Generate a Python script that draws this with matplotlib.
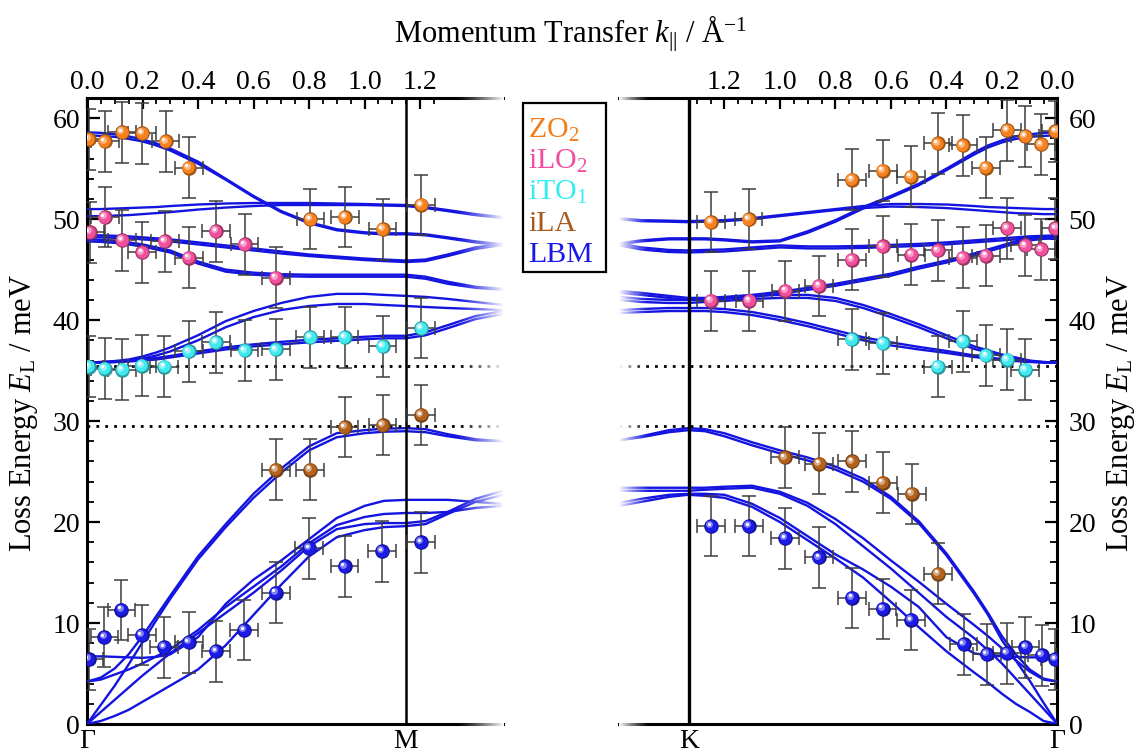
import numpy as np
import matplotlib.pyplot as plt
from matplotlib.transforms import offset_copy
from matplotlib.patches import Rectangle
from matplotlib.colors import to_rgb

plt.rcParams['font.family'] = 'Liberation Serif'
plt.rcParams['mathtext.fontset'] = 'custom'
plt.rcParams['mathtext.rm'] = 'Liberation Serif'
plt.rcParams['mathtext.it'] = 'Liberation Serif:italic'

W, H = 1142, 754
M_POINT = 1.148
K_POINT = 1.327

# ---- calculated dispersion, Gamma -> M (left panel) ----
k_left = [0.00, 0.05, 0.10, 0.15, 0.20, 0.25, 0.30, 0.40, 0.50, 0.60,
          0.70, 0.80, 0.90, 1.00, 1.07, 1.15, 1.22, 1.30, 1.40, 1.50]
zo_l1 = [58.6, 58.55, 58.4, 58.2, 57.9, 57.5, 57.0, 55.7, 54.0, 52.3, 50.8, 49.7, 49.0, 48.7, 48.6, 48.6, 48.5, 48.2, 47.8, 47.5]
zo_l2 = [58.3, 58.25, 58.15, 57.95, 57.7, 57.3, 56.8, 55.5, 53.9, 52.2, 50.7, 49.6, 48.9, 48.6, 48.5, 48.5, 48.4, 48.1, 47.7, 47.4]
flat_l1 = [51.0, 51.0, 51.05, 51.1, 51.15, 51.2, 51.3, 51.45, 51.55, 51.6, 51.6, 51.6, 51.55, 51.5, 51.45, 51.4, 51.2, 50.9, 50.5, 50.2]
flat_l2 = [50.3, 50.3, 50.35, 50.4, 50.5, 50.6, 50.7, 50.95, 51.15, 51.3, 51.4, 51.4, 51.4, 51.4, 51.35, 51.3, 51.1, 50.8, 50.4, 50.1]
lo_l1 = [48.4, 48.4, 48.35, 48.3, 48.2, 48.1, 48.0, 47.7, 47.4, 47.1, 46.8, 46.5, 46.3, 46.1, 46.0, 45.9, 46.0, 46.5, 47.2, 47.6]
lo_l2 = [48.2, 48.2, 48.15, 48.1, 48.0, 47.9, 47.8, 47.5, 47.2, 46.9, 46.6, 46.35, 46.15, 45.95, 45.85, 45.75, 45.85, 46.35, 47.05, 47.45]
lod_l1 = [48.0, 47.95, 47.85, 47.7, 47.5, 47.2, 46.9, 45.8, 45.0, 44.7, 44.55, 44.5, 44.5, 44.5, 44.5, 44.5, 44.3, 43.8, 43.3, 43.1]
lod_l2 = [47.8, 47.75, 47.65, 47.5, 47.3, 47.0, 46.7, 45.6, 44.8, 44.5, 44.35, 44.3, 44.3, 44.3, 44.3, 44.3, 44.1, 43.6, 43.2, 43.0]
tou_l1 = [35.8, 35.85, 35.95, 36.1, 36.4, 36.8, 37.3, 38.5, 39.9, 40.9, 41.7, 42.3, 42.6, 42.6, 42.5, 42.4, 42.3, 42.1, 41.8, 41.5]
tou_l2 = [35.8, 35.85, 35.9, 36.0, 36.2, 36.5, 36.9, 38.0, 39.3, 40.3, 41.0, 41.4, 41.6, 41.6, 41.5, 41.4, 41.3, 41.2, 41.1, 41.0]
to_l1 = [35.8, 35.8, 35.85, 35.9, 36.0, 36.1, 36.3, 36.7, 37.1, 37.4, 37.6, 37.8, 37.95, 38.1, 38.2, 38.2, 38.5, 39.2, 40.1, 40.6]
to_l2 = [35.8, 35.8, 35.85, 35.95, 36.1, 36.25, 36.45, 36.9, 37.3, 37.6, 37.85, 38.05, 38.2, 38.35, 38.45, 38.45, 38.8, 39.5, 40.4, 40.9]
la_l1 = [0.0, 1.9, 3.8, 5.9, 8.1, 10.3, 12.4, 16.3, 19.5, 22.4, 24.9, 27.1, 28.4, 28.8, 28.95, 29.0, 28.9, 28.5, 28.1, 28.0]
la_l2 = [4.2, 4.6, 5.5, 6.9, 8.7, 10.7, 12.7, 16.6, 19.8, 22.8, 25.3, 27.5, 28.8, 29.1, 29.25, 29.3, 29.2, 28.7, 28.2, 28.0]
za_l = [0.0, 0.3, 0.8, 1.4, 2.2, 3.0, 3.8, 5.4, 7.8, 10.8, 13.8, 16.6, 18.5, 19.2, 19.5, 19.6, 19.8, 20.8, 22.0, 22.7]
ta_l = [0.0, 1.2, 2.4, 3.6, 4.8, 5.9, 7.0, 9.0, 11.0, 13.0, 15.2, 17.6, 19.3, 19.8, 19.9, 19.9, 20.1, 21.0, 22.3, 23.1]
tas_l = [4.2, 4.4, 4.9, 5.4, 6.0, 6.7, 7.4, 9.3, 11.6, 13.6, 15.6, 17.9, 19.7, 20.5, 20.8, 20.9, 20.9, 21.0, 21.4, 21.6]
lbm_l = [6.7, 6.7, 6.65, 6.6, 6.55, 6.65, 6.9, 8.6, 11.9, 14.3, 16.2, 18.3, 20.4, 21.6, 22.1, 22.2, 22.2, 22.2, 22.0, 21.8]

# ---- calculated dispersion, Gamma -> K (right panel) ----
k_right = [0.00, 0.05, 0.10, 0.15, 0.20, 0.25, 0.30, 0.40, 0.50, 0.60,
           0.70, 0.80, 0.90, 1.00, 1.10, 1.20, 1.27, 1.33, 1.40, 1.50, 1.58]
zo_r1 = [58.6, 58.55, 58.4, 58.2, 57.8, 57.3, 56.6, 55.0, 53.5, 52.3, 51.2, 49.9, 48.8, 47.9, 47.8, 48.0, 48.1, 48.1, 48.1, 47.9, 47.6]
zo_r2 = [58.3, 58.25, 58.15, 57.95, 57.6, 57.1, 56.4, 54.85, 53.35, 52.15, 51.05, 49.75, 48.65, 47.8, 47.7, 47.9, 48.0, 48.0, 48.0, 47.8, 47.5]
flat_r1 = [51.0, 51.0, 51.05, 51.1, 51.15, 51.2, 51.3, 51.45, 51.5, 51.5, 51.3, 51.0, 50.7, 50.4, 50.1, 49.9, 49.85, 49.8, 49.85, 49.9, 50.1]
flat_r2 = [50.5, 50.5, 50.55, 50.6, 50.7, 50.8, 50.9, 51.1, 51.2, 51.25, 51.1, 50.9, 50.6, 50.3, 50.0, 49.8, 49.75, 49.7, 49.75, 49.8, 50.0]
lo_r1 = [48.4, 48.35, 48.3, 48.2, 48.1, 48.0, 47.9, 47.7, 47.55, 47.45, 47.35, 47.3, 47.3, 47.4, 47.2, 47.0, 46.95, 46.9, 46.95, 47.2, 47.6]
lo_r2 = [48.2, 48.15, 48.1, 48.0, 47.9, 47.8, 47.7, 47.5, 47.35, 47.25, 47.15, 47.1, 47.1, 47.2, 47.0, 46.8, 46.75, 46.7, 46.75, 47.0, 47.4]
lor_r1 = [48.3, 48.25, 48.1, 47.8, 47.4, 47.0, 46.6, 45.9, 45.3, 44.6, 44.1, 43.6, 43.2, 42.8, 42.5, 42.3, 42.2, 42.2, 42.4, 42.7, 42.9]
lor_r2 = [48.1, 48.05, 47.9, 47.6, 47.2, 46.8, 46.4, 45.7, 45.1, 44.4, 43.9, 43.4, 43.0, 42.6, 42.3, 42.1, 42.0, 42.0, 42.2, 42.5, 42.7]
tou_r1 = [35.8, 35.85, 36.0, 36.3, 36.6, 37.0, 37.4, 38.5, 39.6, 40.6, 41.5, 42.2, 42.5, 42.5, 42.4, 42.2, 42.1, 42.0, 42.0, 42.1, 42.3]
tou_r2 = [35.8, 35.85, 35.95, 36.2, 36.45, 36.8, 37.15, 38.2, 39.3, 40.3, 41.2, 41.9, 42.2, 42.2, 42.1, 41.9, 41.8, 41.7, 41.7, 41.8, 42.0]
to_r1 = [35.8, 35.8, 35.85, 35.95, 36.05, 36.2, 36.35, 36.75, 37.1, 37.5, 38.0, 38.7, 39.4, 40.0, 40.5, 40.8, 40.9, 40.9, 40.9, 40.8, 40.7]
to_r2 = [35.8, 35.8, 35.9, 36.0, 36.15, 36.3, 36.5, 36.95, 37.35, 37.8, 38.3, 39.0, 39.7, 40.3, 40.8, 41.1, 41.2, 41.2, 41.2, 41.1, 41.0]
la_r1 = [0.0, 2.1, 4.3, 6.3, 8.3, 10.8, 12.9, 16.7, 19.9, 22.3, 24.0, 25.2, 26.1, 26.8, 27.6, 28.5, 29.0, 29.1, 28.9, 28.4, 28.1]
la_r2 = [4.2, 4.5, 5.4, 6.9, 8.7, 11.0, 13.1, 16.9, 20.1, 22.5, 24.3, 25.5, 26.4, 27.1, 27.9, 28.8, 29.2, 29.3, 29.1, 28.5, 28.1]
tas_r = [4.2, 4.4, 5.2, 6.3, 7.5, 8.7, 9.8, 11.9, 14.1, 16.2, 18.4, 20.3, 21.9, 23.0, 23.6, 23.5, 23.4, 23.4, 23.4, 23.4, 23.4]
ta_r = [0.0, 1.5, 3.0, 4.5, 6.0, 7.3, 8.5, 10.6, 13.0, 15.4, 17.6, 19.8, 21.6, 22.8, 23.4, 23.3, 23.2, 23.1, 23.1, 23.1, 23.1]
lbm_r = [6.6, 6.6, 6.6, 6.65, 6.7, 6.8, 7.0, 8.6, 11.6, 13.6, 15.3, 16.8, 18.6, 20.4, 21.8, 22.7, 22.8, 22.8, 22.7, 22.3, 21.9]
za_r = [0.0, 0.3, 1.2, 2.0, 3.0, 4.1, 5.1, 7.2, 9.6, 12.1, 14.5, 16.4, 18.2, 20.0, 21.5, 22.4, 22.6, 22.7, 22.5, 22.0, 21.6]

# ---- measured loss peaks ----
zo2_l_k = [0.007, 0.064, 0.127, 0.199, 0.283, 0.367, 0.805, 0.930, 1.065, 1.204]
zo2_l_e = [57.9, 57.7, 58.6, 58.5, 57.7, 55.1, 50.0, 50.2, 49.0, 51.4]
ilo2_l_k = [0.010, 0.064, 0.127, 0.199, 0.280, 0.367, 0.465, 0.568, 0.681]
ilo2_l_e = [48.7, 50.2, 47.9, 46.7, 47.8, 46.2, 48.8, 47.5, 44.2]
ito1_l_k = [0.007, 0.064, 0.127, 0.198, 0.278, 0.367, 0.465, 0.568, 0.681, 0.804, 0.928, 1.065, 1.204]
ito1_l_e = [35.4, 35.2, 35.1, 35.5, 35.4, 36.9, 37.8, 37.0, 37.1, 38.3, 38.3, 37.4, 39.2]
ila_l_k = [0.681, 0.804, 0.928, 1.065, 1.204]
ila_l_e = [25.2, 25.2, 29.4, 29.6, 30.6]
lbm_l_k = [0.007, 0.063, 0.124, 0.198, 0.278, 0.367, 0.465, 0.567, 0.681, 0.801, 0.928, 1.064, 1.204]
lbm_l_e = [6.4, 8.6, 11.3, 8.8, 7.6, 8.1, 7.2, 9.3, 13.0, 17.4, 15.6, 17.1, 18.0]

zo2_r_k = [1.248, 1.113, 0.740, 0.629, 0.528, 0.431, 0.341, 0.257, 0.181, 0.116, 0.058, 0.007]
zo2_r_e = [49.7, 50.0, 53.9, 54.8, 54.2, 57.5, 57.3, 55.1, 58.8, 58.2, 57.4, 58.7]
ilo2_r_k = [1.249, 1.110, 0.980, 0.859, 0.740, 0.629, 0.526, 0.431, 0.341, 0.257, 0.181, 0.116, 0.058, 0.007]
ilo2_r_e = [41.9, 41.9, 42.9, 43.4, 46.0, 47.3, 46.5, 46.9, 46.2, 46.4, 49.1, 47.4, 47.0, 49.1]
ito1_r_k = [0.740, 0.629, 0.431, 0.341, 0.257, 0.181, 0.116]
ito1_r_e = [38.1, 37.7, 35.4, 37.9, 36.5, 36.1, 35.1]
ila_r_k = [0.982, 0.858, 0.739, 0.629, 0.524, 0.429]
ila_r_e = [26.4, 25.8, 26.0, 23.9, 22.8, 14.9]
lbm_r_k = [1.247, 1.111, 0.981, 0.859, 0.740, 0.630, 0.527, 0.338, 0.255, 0.182, 0.115, 0.056, 0.008]
lbm_r_e = [19.6, 19.6, 18.4, 16.5, 12.5, 11.4, 10.3, 7.9, 6.9, 7.0, 7.6, 6.8, 6.4]

K_ERR = 0.05
E_ERR = 3.0

mode_names = ['ZO$_2$', 'iLO$_2$', 'iTO$_1$', 'iLA', 'LBM']
mode_colors = ['#f5821f', '#f0509c', '#40e8f0', '#b3621e', '#1c1ce6']
text_colors = ['#f07e1a', '#f04fa0', '#33eef0', '#a85a1c', '#1818e8']
LINE_BLUE = '#1414e0'


def shade(color, f):
    c = np.array(to_rgb(color))
    if f >= 0:
        return tuple(c + (1 - c) * f)
    return tuple(c * (1 + f))


def draw_balls(ax, k, e, color):
    """Shaded spheres: dark rim, body, soft highlight towards the upper left."""
    fig = ax.figure
    ax.scatter(k, e, s=110, color=shade(color, -0.35), lw=0, zorder=6)
    ax.scatter(k, e, s=80, color=color, lw=0, zorder=7,
               transform=offset_copy(ax.transData, fig=fig, x=-0.6, y=0.6, units='dots'))
    ax.scatter(k, e, s=24, color=shade(color, 0.45), lw=0, zorder=8,
               transform=offset_copy(ax.transData, fig=fig, x=-1.9, y=1.9, units='dots'))
    ax.scatter(k, e, s=5, color='white', lw=0, zorder=9,
               transform=offset_copy(ax.transData, fig=fig, x=-2.5, y=2.5, units='dots'))


def draw_points(ax, k, e, color):
    ax.errorbar(k, e, xerr=K_ERR, yerr=E_ERR, fmt='none', ecolor='#3d3d3d',
                elinewidth=1.1, capsize=5, capthick=1.1, zorder=4)
    draw_balls(ax, k, e, color)


def fade_out(ax, k_start, k_end):
    grad = np.ones((2, 256, 4))
    grad[..., 3] = np.linspace(0, 1, 256)[None, :] ** 1.3
    ax.imshow(grad, extent=(k_start, k_end, -1.6, 63.6), aspect='auto',
              zorder=20, clip_on=False, interpolation='bilinear')


def style_axes(ax, side):
    ax.set_ylim(0, 62)
    for s in ax.spines.values():
        s.set_linewidth(2.2)
    ax.spines['right' if side == 'left' else 'left'].set_visible(False)
    ax.xaxis.set_ticks_position('top')
    ax.tick_params(axis='x', which='both', direction='in', top=True, bottom=False,
                   labeltop=True, labelbottom=False, labelsize=20, pad=2)
    ax.tick_params(axis='x', which='major', length=8, width=1.6)
    ax.tick_params(axis='x', which='minor', length=4, width=1.3)
    ax.set_yticks(np.arange(0, 61, 10))
    ax.set_yticks(np.arange(0, 62, 2), minor=True)
    if side == 'left':
        ax.tick_params(axis='y', which='both', direction='in', left=True, right=False,
                       labelleft=True, labelright=False, labelsize=20, pad=5)
    else:
        ax.tick_params(axis='y', which='both', direction='in', left=False, right=True,
                       labelleft=False, labelright=True, labelsize=20, pad=8)
    ax.tick_params(axis='y', which='major', length=9, width=1.6)
    ax.tick_params(axis='y', which='minor', length=5, width=1.3)


fig = plt.figure(figsize=(W / 100, H / 100), dpi=100)
ax_l = fig.add_axes([87 / W, 30 / H, 1.5 * 277.5 / W, 626 / H])
ax_r = fig.add_axes([(1057.4 - 1.58 * 277.5) / W, 30 / H, 1.58 * 277.5 / W, 626 / H])

left_lines = [zo_l1, zo_l2, flat_l1, flat_l2, lo_l1, lo_l2, lod_l1, lod_l2,
              tou_l1, tou_l2, to_l1, to_l2, la_l1, la_l2, za_l, ta_l, tas_l, lbm_l]
right_lines = [zo_r1, zo_r2, flat_r1, flat_r2, lo_r1, lo_r2, lor_r1, lor_r2,
               tou_r1, tou_r2, to_r1, to_r2, la_r1, la_r2, tas_r, ta_r, lbm_r, za_r]

for ax, kk, lines in [(ax_l, k_left, left_lines), (ax_r, k_right, right_lines)]:
    for branch in lines:
        ax.plot(kk, branch, color=LINE_BLUE, lw=1.7, zorder=3, solid_joinstyle='round')
    for level in (35.5, 29.5):
        ax.axhline(level, color='k', lw=2.0, ls=(0, (1, 2.2)), zorder=3.5)

left_sets = [(zo2_l_k, zo2_l_e), (ilo2_l_k, ilo2_l_e), (ito1_l_k, ito1_l_e),
             (ila_l_k, ila_l_e), (lbm_l_k, lbm_l_e)]
right_sets = [(zo2_r_k, zo2_r_e), (ilo2_r_k, ilo2_r_e), (ito1_r_k, ito1_r_e),
              (ila_r_k, ila_r_e), (lbm_r_k, lbm_r_e)]
for (k, e), c in zip(left_sets, mode_colors):
    draw_points(ax_l, k, e, c)
for (k, e), c in zip(right_sets, mode_colors):
    draw_points(ax_r, k, e, c)

ax_l.axvline(M_POINT, color='k', lw=1.8, zorder=3.6)
ax_r.axvline(K_POINT, color='k', lw=2.4, zorder=3.6)

style_axes(ax_l, 'left')
style_axes(ax_r, 'right')

major_k = np.round(np.arange(0, 1.21, 0.2), 2)
ax_l.set_xticks(major_k)
ax_l.set_xticks([m for m in np.round(np.arange(0, 1.26, 0.05), 2) if m not in major_k], minor=True)
ax_l.set_xticklabels([f'{v:.1f}' for v in major_k])
ax_r.set_xticks(major_k)
ax_r.set_xticks([m for m in np.round(np.arange(0, 1.31, 0.05), 2) if m not in major_k], minor=True)
ax_r.set_xticklabels([f'{v:.1f}' for v in major_k])

fade_out(ax_l, 1.33, 1.5)
fade_out(ax_r, 1.47, 1.58)
ax_l.set_xlim(0, 1.5)
ax_r.set_xlim(1.58, 0)
ax_l.set_ylim(0, 62)
ax_r.set_ylim(0, 62)

# high-symmetry point labels under the panels
for ax, pts in [(ax_l, [(0, 'Γ'), (M_POINT, 'M')]), (ax_r, [(K_POINT, 'K'), (0, 'Γ')])]:
    for k, name in pts:
        ax.text(k, -0.008, name, transform=ax.get_xaxis_transform(),
                ha='center', va='top', fontsize=20)

fig.text(0.5, 1 - 42 / H, 'Momentum Transfer $k_{||}$ / Å$^{-1}$',
         ha='center', va='baseline', fontsize=22)
ylab = 'Loss Energy $E_{\\mathrm{L}}$ / meV'
fig.text(24 / W, 1 - 413 / H, ylab, rotation=90, ha='center', va='center', fontsize=22)
fig.text(1121 / W, 1 - 413 / H, ylab, rotation=90, ha='center', va='center', fontsize=22)

# legend box between the panels
fig.add_artist(Rectangle((523 / W, 1 - 272 / H), 83 / W, 169 / H, transform=fig.transFigure,
                         fill=False, ec='k', lw=1.6))
for i, (name, col) in enumerate(zip(mode_names, text_colors)):
    fig.text(528 / W, 1 - (138 + 31 * i) / H, name, color=col, fontsize=21.5, va='baseline')

fig.savefig('out.png', dpi=100)
